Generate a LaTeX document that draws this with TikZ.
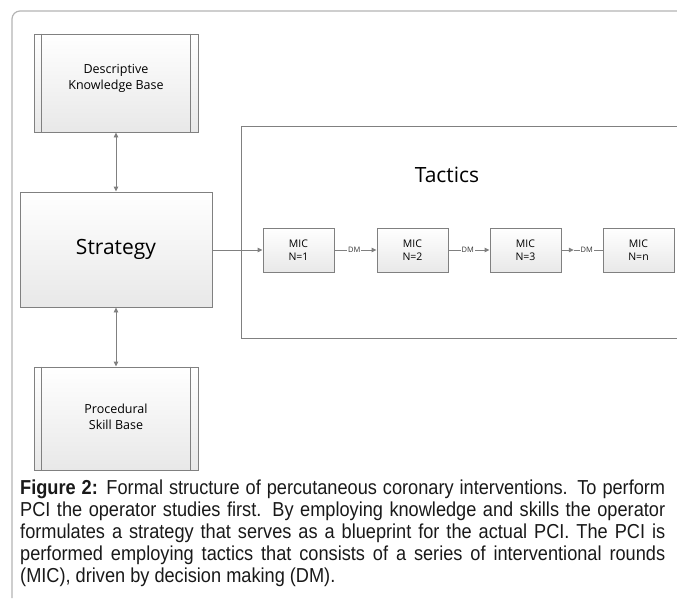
\documentclass[tikz,border=0pt]{standalone}
\usepackage{fontspec}
\setmainfont{Open Sans}
\newfontfamily\capfont{Liberation Sans}[FakeStretch=0.9]
\usetikzlibrary{arrows.meta,shadows,calc}
\definecolor{edge}{HTML}{808080}
\definecolor{frame}{HTML}{B4B4B4}
\tikzset{
  boxnode/.style={draw=edge, line width=0.9pt, top color=white, bottom color=black!9,
    drop shadow={opacity=0.25, shadow xshift=1pt, shadow yshift=-1pt},
    align=center, inner sep=0pt},
  conn/.style={draw=edge, line width=0.9pt},
  tip/.style={-{Triangle[length=5pt,width=4.5pt]}},
  dmlabel/.style={fill=white, inner sep=1pt, font=\fontsize{7.5}{8}\selectfont, text=black!80},
  capline/.style={anchor=base west, inner sep=0pt, font=\capfont\fontsize{20.2}{22}\selectfont, text=black!90}
}
\begin{document}
\begin{tikzpicture}[x=1pt,y=-1pt]
\useasboundingbox (0,0) rectangle (677,598);
% outer frame
\draw[frame, line width=1.2pt, rounded corners=8pt] (677,11) -- (12,11) -- (12,598);
% tactics frame
\draw[edge, line width=1pt] (677,126) -- (241,126) -- (241,338) -- (677,338);
\node[font=\fontsize{21}{24}\selectfont] (tac) at (447,175) {Tactics};
% knowledge boxes
\node[boxnode, minimum width=164pt, minimum height=98pt] (kb) at (116,83) {};
\node[font=\fontsize{12.5}{16}\selectfont, align=center] (kbt) at (116,78) {Descriptive\\Knowledge Base};
\draw[edge, line width=0.9pt] ([xshift=8pt]kb.north west) -- ([xshift=8pt]kb.south west);
\draw[edge, line width=0.9pt] ([xshift=-8pt]kb.north east) -- ([xshift=-8pt]kb.south east);
\node[boxnode, minimum width=164pt, minimum height=103pt] (sb) at (116,418.5) {};
\node[font=\fontsize{12.5}{16}\selectfont, align=center] (sbt) at (116,417) {Procedural\\Skill Base};
\draw[edge, line width=0.9pt] ([xshift=8pt]sb.north west) -- ([xshift=8pt]sb.south west);
\draw[edge, line width=0.9pt] ([xshift=-8pt]sb.north east) -- ([xshift=-8pt]sb.south east);
% strategy
\node[boxnode, minimum width=192pt, minimum height=115pt, font=\fontsize{21}{24}\selectfont] (st) at (116,249.5) {Strategy};
% MIC boxes
\foreach \n/\x/\lab in {1/298.5/1, 2/412.5/2, 3/525.5/3, 4/638.5/n}{
  \node[boxnode, minimum width=71pt, minimum height=44pt, font=\fontsize{10.5}{13}\selectfont] (m\n) at (\x,250) {MIC\\N=\lab};
}
% connectors
\draw[conn, {Triangle[length=5pt,width=4.5pt]}-{Triangle[length=5pt,width=4.5pt]}] (kb.south) -- (st.north);
\draw[conn, {Triangle[length=5pt,width=4.5pt]}-{Triangle[length=5pt,width=4.5pt]}] (st.south) -- (sb.north);
\draw[conn, tip] (st.east |- m1.west) -- (m1.west);
\draw[conn, tip] (m1.east) -- node[dmlabel, pos=0.47] {DM} (m2.west);
\draw[conn, tip] (m2.east) -- node[dmlabel, pos=0.47] {DM} (m3.west);
\coordinate (mid3) at ($(m3.east)!0.3!(m4.west)$);
\draw[conn, tip] (m3.east) -- (mid3);
\draw[conn] (mid3) -- node[dmlabel, pos=0.45] {DM} (m4.west);
% caption
\node[capline] (c1) at (20,494) {\makebox[645pt][s]{\textbf{Figure 2:} Formal structure of percutaneous coronary interventions. To perform}};
\node[capline] (c2) at (20,516) {\makebox[645pt][s]{PCI the operator studies first. By employing knowledge and skills the operator}};
\node[capline] (c3) at (20,538) {\makebox[645pt][s]{formulates a strategy that serves as a blueprint for the actual PCI. The PCI is}};
\node[capline] (c4) at (20,560) {\makebox[645pt][s]{performed employing tactics that consists of a series of interventional rounds}};
\node[capline] (c5) at (20,582) {(MIC), driven by decision making (DM).};
\end{tikzpicture}
\end{document}
